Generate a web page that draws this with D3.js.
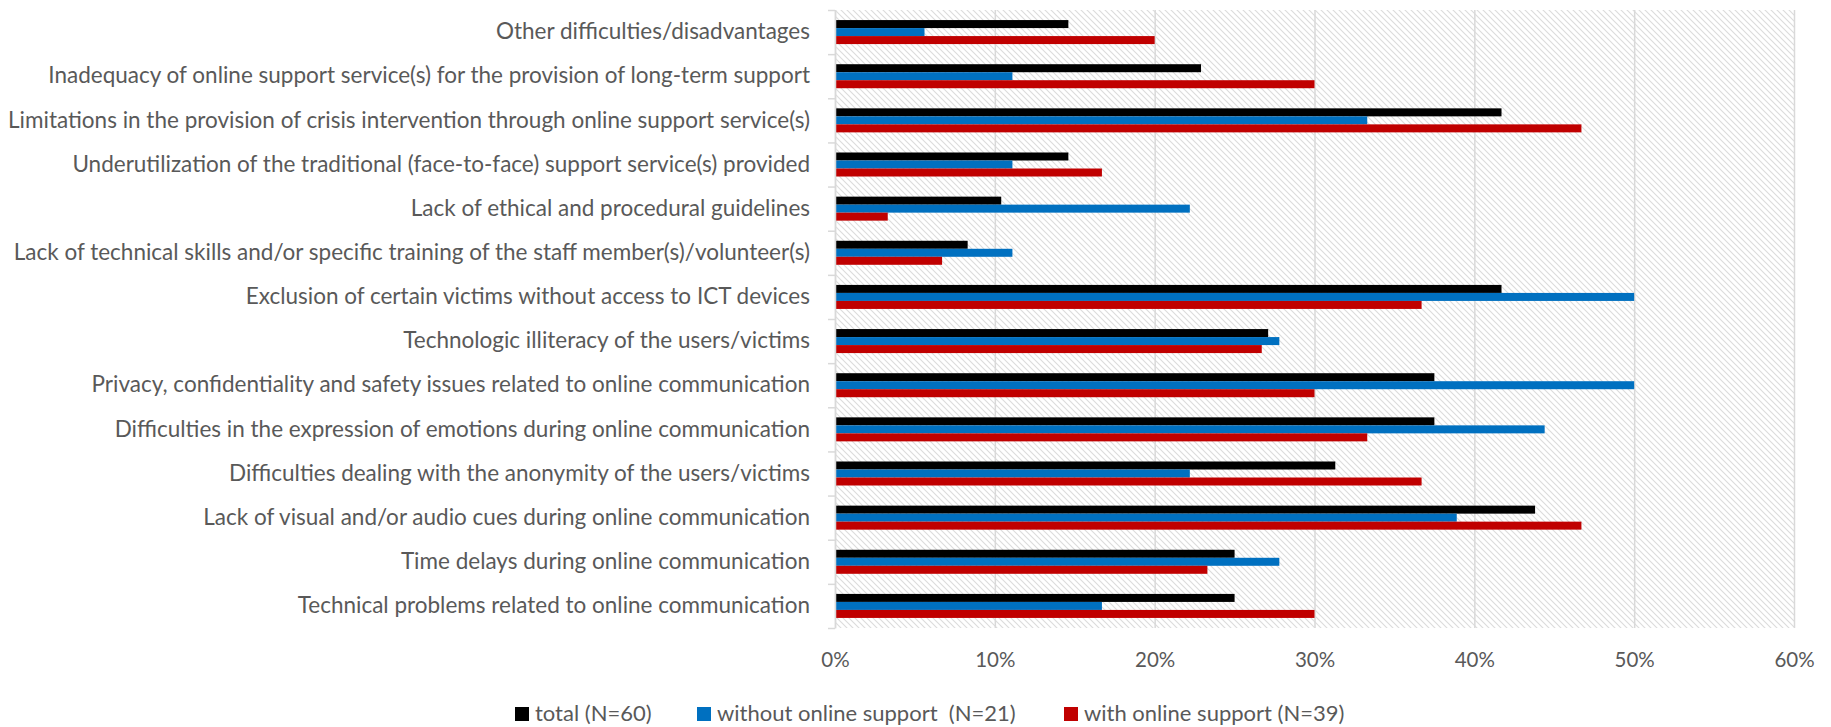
<!DOCTYPE html>
<html>
<head>
<meta charset="utf-8">
<script src="https://cdn.jsdelivr.net/npm/d3@7"></script>
<style>
  body { margin: 0; background: #fff; }
  text { font-family: Lato, "Open Sans", sans-serif; fill: #595959; }
</style>
</head>
<body>
<div id="chartDiv"></div>
<script>
// categories top to bottom
var categories = [
  "Other difficulties/disadvantages",
  "Inadequacy of online support service(s) for the provision of long-term support",
  "Limitations in the provision of crisis intervention through online support service(s)",
  "Underutilization of the traditional (face-to-face) support service(s) provided",
  "Lack of ethical and procedural guidelines",
  "Lack of technical skills and/or specific training of the staff member(s)/volunteer(s)",
  "Exclusion of certain victims without access to ICT devices",
  "Technologic illiteracy of the users/victims",
  "Privacy, confidentiality and safety issues related to online communication",
  "Difficulties in the expression of emotions during online communication",
  "Difficulties dealing with the anonymity of the users/victims",
  "Lack of visual and/or audio cues during online communication",
  "Time delays during online communication",
  "Technical problems related to online communication"
];

var seriesNames = ["total (N=60)", "without online support  (N=21)", "with online support (N=39)"];
var seriesColors = ["#000000", "#0070C0", "#C00000"];

// percentages
var totalValues   = [14.6, 22.9, 41.7, 14.6, 10.4, 8.3, 41.7, 27.1, 37.5, 37.5, 31.3, 43.8, 25.0, 25.0];
var withoutValues = [5.6, 11.1, 33.3, 11.1, 22.2, 11.1, 50.0, 27.8, 50.0, 44.4, 22.2, 38.9, 27.8, 16.7];
var withValues    = [20.0, 30.0, 46.7, 16.7, 3.3, 6.7, 36.7, 26.7, 30.0, 33.3, 36.7, 46.7, 23.3, 30.0];

var xTicks = [0, 10, 20, 30, 40, 50, 60];

var margin = {top: 10, right: 37, bottom: 99, left: 835},
    width = 1831 - margin.left - margin.right,
    height = 727 - margin.top - margin.bottom;

var data = categories.map(function(c, i) {
  return {cat: c, vals: [totalValues[i], withoutValues[i], withValues[i]]};
});

var x = d3.scaleLinear().domain([0, 60]).range([0, width]);
var y = d3.scaleBand().domain(categories).range([0, height])
    .paddingInner(0.456).paddingOuter(0.228);
var ySub = d3.scaleBand().domain([0, 1, 2]).range([0, y.bandwidth()]);

var svg = d3.select("#chartDiv").append("svg")
    .attr("width", 1831)
    .attr("height", 727);

// diagonal hatch for the plot area
var pat = svg.append("defs").append("pattern")
    .attr("id", "hatch")
    .attr("patternUnits", "userSpaceOnUse")
    .attr("width", 6).attr("height", 6);
pat.append("rect").attr("width", 6).attr("height", 6).attr("fill", "#fff");
pat.append("path")
    .attr("d", "M-1,-1 L7,7 M-1,5 L1,7 M5,-1 L7,1")
    .attr("stroke", "#dcdcdc")
    .attr("stroke-width", 1.1);

var g = svg.append("g")
    .attr("transform", "translate(" + margin.left + "," + margin.top + ")");

g.append("rect")
    .attr("width", width)
    .attr("height", height)
    .attr("fill", "url(#hatch)");

// vertical gridlines + x labels
var xa = d3.axisBottom(x).tickValues(xTicks).tickSize(-height).tickFormat(function(d) { return d + "%"; });
var xg = g.append("g")
    .attr("transform", "translate(0," + height + ")")
    .call(xa);
xg.select(".domain").remove();
xg.selectAll(".tick line").attr("stroke", "#d9d9d9").attr("stroke-width", 1.5);
xg.selectAll(".tick text")
    .attr("y", 39).attr("dy", 0)
    .style("font-size", "20.5px");

// bars
var groups = g.selectAll(".grp")
    .data(data)
  .enter().append("g")
    .attr("class", "grp")
    .attr("transform", function(d) { return "translate(0," + y(d.cat) + ")"; });

groups.selectAll("rect")
    .data(function(d) { return d.vals; })
  .enter().append("rect")
    .attr("x", 0)
    .attr("y", function(d, i) { return ySub(i); })
    .attr("width", function(d) { return x(d); })
    .attr("height", ySub.bandwidth())
    .attr("fill", function(d, i) { return seriesColors[i]; });

// left axis, ticks between categories
var yIdx = d3.scaleLinear().domain([0, categories.length]).range([0, height]);
var yb = g.append("g")
    .call(d3.axisLeft(yIdx).tickValues(d3.range(categories.length + 1)).tickSize(7).tickSizeOuter(0).tickFormat(""));
yb.select(".domain").attr("stroke", "#d9d9d9").attr("stroke-width", 1.5);
yb.selectAll(".tick line").attr("stroke", "#d9d9d9").attr("stroke-width", 1.5);

// category labels
var yl = g.append("g")
    .call(d3.axisLeft(y).tickSize(0).tickPadding(25));
yl.select(".domain").remove();
yl.selectAll(".tick text").style("font-size", "22.5px");

// legend
var legendX = [515, 697, 1064];
var legend = svg.selectAll(".legend")
    .data(seriesNames)
  .enter().append("g")
    .attr("class", "legend")
    .attr("transform", function(d, i) { return "translate(" + legendX[i] + ",707)"; });
legend.append("rect")
    .attr("width", 14).attr("height", 14)
    .attr("fill", function(d, i) { return seriesColors[i]; });
legend.append("text")
    .attr("x", 20).attr("y", 14)
    .style("font-size", "22px")
    .style("white-space", "pre")
    .text(function(d) { return d; });
</script>
</body>
</html>
